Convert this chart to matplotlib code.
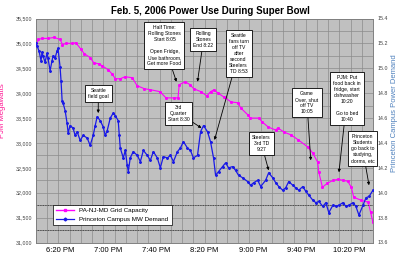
import numpy as np
import matplotlib
matplotlib.use('Agg')
import matplotlib.pyplot as plt
from matplotlib.lines import Line2D

plt.rcParams['font.family'] = ['Liberation Sans', 'DejaVu Sans']

# minutes after 6:00 PM, PJM grid MW
pjm_t = [0, 2, 5, 10, 15, 20, 22, 25, 30, 33, 37, 40, 45, 48, 52, 55, 60, 63, 66, 70,
         74, 80, 84, 90, 95, 103, 108, 115, 118, 119, 124, 128, 131, 137, 142, 145, 148,
         151, 156, 162, 168, 170, 176, 178, 185, 188, 193, 199, 201, 206, 212, 218, 226,
         230, 234, 235, 238, 242, 247, 251, 255, 259, 262, 264, 270, 276, 278, 280]
pjm_mw = [34940, 35080, 35100, 35100, 35120, 35080, 34975, 35000, 35000, 35015, 34895,
          34795, 34715, 34610, 34590, 34550, 34470, 34390, 34290, 34290, 34330, 34310,
          34150, 34090, 34070, 34030, 33905, 33905, 33905, 34170, 34230, 34170, 34090,
          34030, 33945, 34030, 34070, 34005, 33925, 33825, 33805, 33705, 33565, 33500,
          33500, 33420, 33320, 33260, 33300, 33220, 33160, 33060, 32915, 32795, 32615,
          32410, 32110, 32190, 32250, 32270, 32250, 32230, 32110, 31910, 31850, 31810,
          31605, 31405]

# minutes after 6:00 PM, Princeton campus MW
pu_t = [0, 0.8, 2.5, 4.2, 5, 5.8, 7.5, 9.2, 10, 11.7, 13.3, 14.2, 15.8, 17.5, 18.3, 20,
        20.8, 21.7, 22.5, 24.2, 25.8, 26.7, 28.3, 30.8, 32.5, 34.2, 36.7, 39.2, 42.5, 45,
        47.5, 49.2, 50.8, 53.3, 55.8, 57.5, 59.2, 61.7, 64.2, 65.8, 68.3, 69.2, 70, 72.5,
        74.2, 75.8, 76.7, 78.3, 80.8, 84.2, 86.7, 89.2, 92.5, 95, 97.5, 100.8, 103.3,
        105.8, 109.2, 111.7, 114.2, 117.5, 120, 122.5, 125.8, 128.3, 130.8, 134.2, 136.7,
        139.2, 142.5, 145, 147.5, 149.2, 151.7, 155, 157.5, 160, 163.3, 165.8, 168.3,
        171.7, 175.8, 178.3, 180.8, 184.2, 186.7, 190.8, 193.3, 196.7, 199.2, 201.7, 205,
        207.5, 210, 213.3, 215.8, 218.3, 221.7, 224.2, 226.7, 230, 232.5, 235, 238.3,
        240.8, 243.3, 246.7, 249.2, 251.7, 255, 257.5, 260, 263.3, 265.8, 268.3, 271.7,
        274.2, 276.7, 280]
pu_mw = [15.20, 15.18, 15.14, 15.06, 15.13, 15.10, 15.05, 15.12, 15.08, 14.98, 15.06,
         15.10, 15.08, 15.14, 15.16, 15.01, 14.90, 14.74, 14.72, 14.66, 14.56, 14.48,
         14.54, 14.52, 14.46, 14.49, 14.42, 14.46, 14.44, 14.38, 14.46, 14.54, 14.61,
         14.58, 14.53, 14.46, 14.50, 14.60, 14.64, 14.62, 14.58, 14.46, 14.36, 14.28,
         14.34, 14.22, 14.17, 14.28, 14.33, 14.30, 14.25, 14.34, 14.30, 14.26, 14.33,
         14.28, 14.20, 14.29, 14.28, 14.30, 14.25, 14.33, 14.36, 14.41, 14.36, 14.34,
         14.28, 14.30, 14.49, 14.54, 14.49, 14.41, 14.28, 14.14, 14.17, 14.21, 14.24,
         14.20, 14.21, 14.18, 14.14, 14.12, 14.09, 14.06, 14.08, 14.10, 14.05, 14.10,
         14.16, 14.12, 14.08, 14.05, 14.02, 14.04, 14.09, 14.06, 14.04, 14.02, 14.05,
         14.01, 13.98, 13.94, 13.92, 13.93, 13.89, 13.92, 13.84, 13.90, 13.89, 13.90,
         13.92, 13.89, 13.90, 13.92, 13.89, 13.82, 13.90, 13.96, 13.97, 14.02]

tick_pos = [20, 60, 100, 140, 180, 220, 260]
tick_labels = ['6:20 PM', '7:00 PM', '7:40 PM', '8:20 PM', '9:00 PM', '9:40 PM', '10:20 PM']

# (text, arrow target (minutes, PJM MW), box centre in axes fraction)
notes = [
    ('Seattle\nfield goal', (51.7, 33600), (0.185, 0.667)),
    ('Half Time:\nRolling Stones\nStart 8:05\n\nOpen Fridge,\nUse bathroom,\nGet more Food',
     (116.7, 34230), (0.381, 0.878)),
    ('Rolling\nStones\nEnd 8:22', (134.2, 34230), (0.497, 0.905)),
    ('Seattle\nfans turn\noff TV\nafter\nsecond\nSteelers\nTD 8:53', (148.3, 33060), (0.601, 0.842)),
    ('3rd\nQuarter\nStart 8:30', (137.5, 33300), (0.423, 0.578)),
    ('Steelers\n3rd TD\n9:27', (193.3, 32450), (0.669, 0.44)),
    ('Game\nOver, shut\noff TV\n10:05', (228.3, 32650), (0.804, 0.624)),
    ('PJM: Put\nfood back in\nfridge, start\ndishwasher\n10:20\n\nGo to bed\n10:40',
     (251.7, 32410), (0.923, 0.644)),
    ('Princeton\nStudents\ngo back to\nstudying,\ndorms, etc', (276.7, 32150), (0.969, 0.42)),
]

fig = plt.figure(figsize=(4, 2.54), dpi=100)
ax = fig.add_axes([36/400, 11.5/254, 337/400, 224/254])
ax2 = ax.twinx()
ax.set_facecolor('#c0c0c0')

ax.set_xlim(0, 280)
ax.set_ylim(31000, 35500)
ax2.set_ylim(13.6, 15.4)

# grid
for g in np.linspace(0, 280, 31):
    ax.axvline(g, color='#8c8c8c', lw=0.5, zorder=1)
for g in np.arange(31000, 35501, 250):
    ax.axhline(g, color='#8c8c8c', lw=0.5, zorder=1)
for g in [13.7, 13.9]:
    ax2.axhline(g, color='#303030', lw=0.6, ls=(0, (1, 1)), zorder=1)

ax.plot(pjm_t, pjm_mw, color='#ff00ff', lw=0.8, marker='s', ms=1.1, zorder=3)
ax2.plot(pu_t, pu_mw, color='#1a1ae6', lw=0.9, marker='D', ms=1.0, zorder=3)

ax.set_xticks(tick_pos)
ax.set_xticklabels(tick_labels, fontsize=5.5)
ax.set_yticks(np.arange(31000, 35501, 500))
ax.set_yticklabels(['{:,}'.format(v) for v in range(31000, 35501, 500)], fontsize=3.8, color='#404040')
ax2.set_yticks(np.round(np.arange(13.6, 15.41, 0.2), 1))
ax2.set_yticklabels(['{:.1f}'.format(v) for v in np.arange(13.6, 15.41, 0.2)], fontsize=3.8, color='#404040')
ax.tick_params(axis='both', length=0, pad=3)
ax2.tick_params(axis='y', length=0, pad=3.5)

for a in (ax, ax2):
    for s in a.spines.values():
        s.set_color('#808080')
        s.set_linewidth(0.6)

ax.set_ylabel('PJM Megawatts', color='#ff1493', fontsize=5.5)
ax.yaxis.set_label_coords(-0.088, 0.59)
ax2.set_ylabel('Princeton Campus Power Demand', color='#4f81bd', fontsize=5.5)
ax2.yaxis.set_label_coords(1.054, 0.578)
fig.text(0.525, 0.975, 'Feb. 5, 2006 Power Use During Super Bowl', ha='center', va='top',
         fontsize=7, fontweight='bold')

for txt, xy, pos in notes:
    ax2.annotate(txt, xy=xy, xycoords=ax.transData, xytext=pos, textcoords='axes fraction',
                 ha='center', va='center', fontsize=3.6, linespacing=1.25, zorder=10,
                 bbox=dict(boxstyle='square,pad=0.6', fc='white', ec='black', lw=0.6),
                 arrowprops=dict(arrowstyle='-|>', color='black', lw=0.6, mutation_scale=4,
                                 shrinkA=0, shrinkB=0))

handles = [Line2D([], [], color='#ff00ff', lw=1.0, marker='s', ms=1.5),
           Line2D([], [], color='#1a1ae6', lw=0.9, marker='D', ms=1.5)]
leg = ax2.legend(handles, ['PA-NJ-MD Grid Capacity', 'Princeton Campus MW Demand'],
                 loc='lower left', bbox_to_anchor=(0.04, 0.065), fontsize=4.5,
                 frameon=True, fancybox=False, edgecolor='black', framealpha=1,
                 handlelength=3, borderpad=0.5, labelspacing=0.5)
leg.get_frame().set_linewidth(0.5)
leg.set_zorder(11)

fig.savefig('out.png', dpi=100)
